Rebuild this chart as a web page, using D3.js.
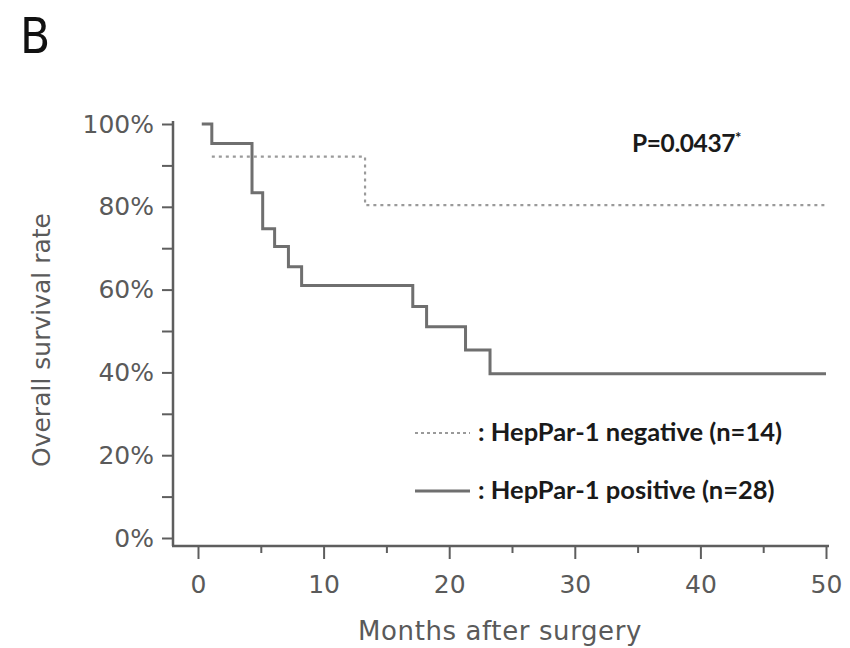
<!DOCTYPE html>
<html>
<head>
<meta charset="utf-8">
<script src="https://cdn.jsdelivr.net/npm/d3@7"></script>
<style>
  html, body { margin: 0; padding: 0; background: #fff; }
  svg { display: block; }
</style>
</head>
<body>
<svg id="chart" width="850" height="648"></svg>
<script>
// ---- data ----
const panelLabel = "B";
const positiveTimes = [0.3, 1.1, 4.3, 5.15, 6.1, 7.2, 8.25, 17.1, 18.2, 21.3, 23.25, 50];
const positiveSurv  = [1.00, 0.953, 0.834, 0.747, 0.704, 0.655, 0.610, 0.559, 0.510, 0.454, 0.397, 0.397];
const negativeTimes = [1.1, 13.3, 50];
const negativeSurv  = [0.921, 0.804, 0.804];
const xMajorTicks = [0, 10, 20, 30, 40, 50];
const xMinorTicks = [5, 15, 25, 35, 45];
const yMajorTicks = [0, 0.2, 0.4, 0.6, 0.8, 1.0];
const yMinorTicks = [0.1, 0.3, 0.5, 0.7, 0.9];
const legendLabels = [": HepPar-1 negative (n=14)", ": HepPar-1 positive (n=28)"];
const pValueText = "P=0.0437";
const xTitle = "Months after surgery";
const yTitle = "Overall survival rate";

// ---- layout ----
const svg = d3.select("#chart");
const x = d3.scaleLinear().domain([0, 50]).range([198, 826]);
const y = d3.scaleLinear().domain([0, 1]).range([538, 124]);
const axisX0 = 173;   // y-axis line position
const axisY0 = 546;   // x-axis line position
const axisColor = "#5e5e5e";
const textColor = "#5a5a5a";
const tickFont = "DejaVu Sans, Verdana, sans-serif";
const boldFont = "Lato, 'Open Sans', sans-serif";

// panel label
svg.append("text")
  .attr("x", 20).attr("y", 53)
  .attr("font-family", "'DejaVu Sans Condensed', 'DejaVu Sans', sans-serif")
  .attr("font-size", 49)
  .attr("fill", "#111")
  .text(panelLabel);

// ---- axes ----
const yAxisG = svg.append("g").attr("transform", `translate(${axisX0},0)`);
yAxisG.call(d3.axisLeft(y).tickValues(yMajorTicks).tickSize(11).tickPadding(8)
  .tickFormat(d3.format(".0%")));
yAxisG.append("g").call(d3.axisLeft(y).tickValues(yMinorTicks).tickSize(11).tickFormat(""));
yAxisG.selectAll(".domain").remove();

const xAxisG = svg.append("g").attr("transform", `translate(0,${axisY0})`);
xAxisG.call(d3.axisBottom(x).tickValues(xMajorTicks).tickSize(13).tickPadding(16)
  .tickFormat(d3.format("d")));
xAxisG.append("g").call(d3.axisBottom(x).tickValues(xMinorTicks).tickSize(7).tickFormat(""));
xAxisG.selectAll(".domain").remove();

svg.selectAll(".tick line").attr("stroke", axisColor).attr("stroke-width", 2);
svg.selectAll(".tick text")
  .attr("font-family", tickFont).attr("font-size", 25).attr("fill", textColor);

// axis lines (L-shape)
svg.append("line")
  .attr("x1", axisX0).attr("x2", axisX0)
  .attr("y1", y(1) - 3).attr("y2", axisY0)
  .attr("stroke", axisColor).attr("stroke-width", 2.5);
svg.append("line")
  .attr("x1", axisX0 - 1).attr("x2", x(50) + 3)
  .attr("y1", axisY0).attr("y2", axisY0)
  .attr("stroke", axisColor).attr("stroke-width", 2.5);

// axis titles
svg.append("text")
  .attr("transform", `translate(50,340) rotate(-90)`)
  .attr("text-anchor", "middle")
  .attr("font-family", tickFont).attr("font-size", 25).attr("fill", textColor)
  .text(yTitle);
svg.append("text")
  .attr("x", 500).attr("y", 640)
  .attr("text-anchor", "middle")
  .attr("font-family", tickFont).attr("font-size", 26).attr("fill", textColor)
  .attr("letter-spacing", 0.6)
  .text(xTitle);

// ---- survival curves ----
const line = d3.line().x(d => x(d[0])).y(d => y(d[1])).curve(d3.curveStepAfter);
const negData = negativeTimes.map((t, i) => [t, negativeSurv[i]]);
const posData = positiveTimes.map((t, i) => [t, positiveSurv[i]]);

const dotStyle = { stroke: "#9a9a9a", width: 2.2, dash: "3,4" };
const solidStyle = { stroke: "#6f6f6f", width: 3 };

svg.append("path").datum(negData)
  .attr("d", line).attr("fill", "none")
  .attr("stroke", dotStyle.stroke).attr("stroke-width", dotStyle.width)
  .attr("stroke-dasharray", dotStyle.dash);
svg.append("path").datum(posData)
  .attr("d", line).attr("fill", "none")
  .attr("stroke", solidStyle.stroke).attr("stroke-width", solidStyle.width);

// ---- p-value ----
const pText = svg.append("text")
  .attr("x", 632).attr("y", 152)
  .attr("font-family", boldFont).attr("font-weight", 700)
  .attr("font-size", 24.5).attr("fill", "#1a1a1a")
  .attr("letter-spacing", -0.4)
  .text(pValueText);
pText.append("tspan").attr("dy", -9).attr("font-size", 15).text("*");

// ---- legend ----
const legY = [433, 491];
const legX0 = 415, legX1 = 470;
svg.append("line").attr("x1", legX0).attr("x2", legX1).attr("y1", legY[0]).attr("y2", legY[0])
  .attr("stroke", dotStyle.stroke).attr("stroke-width", dotStyle.width)
  .attr("stroke-dasharray", "3,3");
svg.append("line").attr("x1", legX0).attr("x2", legX1).attr("y1", legY[1]).attr("y2", legY[1])
  .attr("stroke", solidStyle.stroke).attr("stroke-width", solidStyle.width);
legendLabels.forEach((lab, i) => {
  svg.append("text")
    .attr("x", legX1 + 8).attr("y", legY[i] + 8)
    .attr("font-family", boldFont).attr("font-weight", 700)
    .attr("font-size", 25.5).attr("fill", "#1a1a1a")
    .attr("letter-spacing", 0)
    .text(lab);
});
</script>
</body>
</html>
